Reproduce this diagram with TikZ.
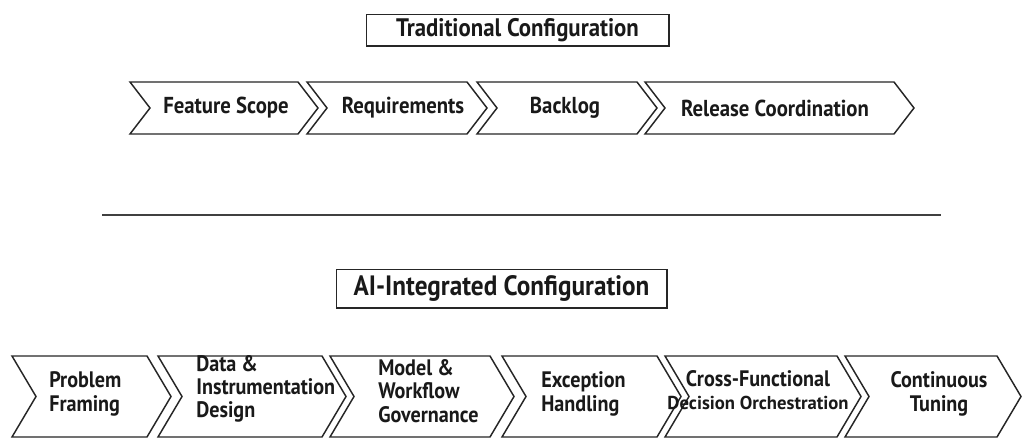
\documentclass[tikz,border=0pt]{standalone}
\usepackage{fontspec}
\setmainfont{PT Sans}[FakeStretch=0.9]
\newfontfamily\plainpt{PT Sans}
\begin{document}
\begin{tikzpicture}[x=0.75pt,y=-0.75pt,
  chev/.style={draw=black!85, line width=1.1pt, line join=miter, fill=white},
  toplbl/.style={font=\bfseries\fontsize{17.3}{20}\selectfont, inner sep=0pt, text=black!90},
  botlbl/.style={font=\bfseries\fontsize{16.8}{17.5}\selectfont, inner sep=0pt, text=black!90},
  titlebox/.style={draw=black!85, line width=1pt, inner sep=0pt, text=black!90},
  rule/.style={draw=black!75, line width=1.2pt}]
\useasboundingbox (0,0) rectangle (1027,438);
\newcommand\chevshape[5]{\draw[chev] (#1,#3) -- (#2,#3) -- ({#2+#5},{(#3+#4)/2}) -- (#2,#4) -- (#1,#4) -- ({#1+#5},{(#3+#4)/2}) -- cycle;}

% title 1
\node[titlebox, minimum width=227pt, minimum height=23.5pt, font=\bfseries\fontsize{19}{22}\selectfont] (title1) at (517.5,30.5) {Traditional Configuration};

% top chevrons
\chevshape{130}{298}{82}{134}{20}
\chevshape{307}{467}{82}{134}{20}
\chevshape{477}{637}{82}{134}{20}
\chevshape{645}{894}{82}{134}{20}
\node[toplbl] (fs) at (226,108) {Feature Scope};
\node[toplbl] (rq) at (403,108) {Requirements};
\node[toplbl] (bl) at (565,108) {Backlog};
\node[toplbl] (rc) at (775,108) {Release Coordination};

% rule
\coordinate (ruleL) at (102,215);
\coordinate (ruleR) at (941,215);
\draw[rule] (ruleL) -- (ruleR);

% title 2
\node[titlebox, minimum width=248pt, minimum height=29pt, font=\bfseries\fontsize{21}{24}\selectfont] (title2) at (501.5,288.5) {AI-Integrated Configuration};

% bottom chevrons
\chevshape{12}{147}{356}{437}{24}
\chevshape{158}{322}{356}{437}{24}
\chevshape{330}{490}{356}{437}{24}
\chevshape{502}{657}{356}{437}{24}
\chevshape{665}{837}{356}{437}{24}
\chevshape{845}{997}{356}{437}{24}
\node[botlbl, anchor=west, align=left] (pf) at (49,394) {Problem\\Framing};
\node[botlbl, anchor=west, align=left] (di) at (196,389) {Data \&\\Instrumentation\\Design};
\node[botlbl, anchor=west, align=left] (mw) at (378,391) {Model \&\\Workflow\\Governance};
\node[botlbl, anchor=west, align=left] (eh) at (541,394) {Exception\\Handling};
\node[botlbl, align=center] (cf) at (758,390) {Cross-Functional\\{\plainpt\fontsize{14}{15}\selectfont Decision Orchestration}};
\node[botlbl, align=center] (ct) at (939,394) {Continuous\\Tuning};
\end{tikzpicture}
\end{document}
